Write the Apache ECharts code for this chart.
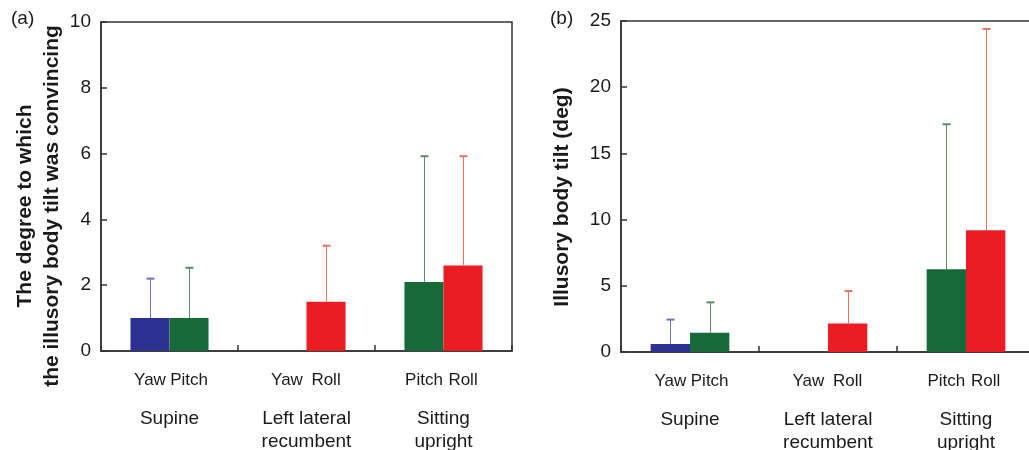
<!DOCTYPE html>
<html>
<head>
<meta charset="utf-8">
<script src="https://cdn.jsdelivr.net/npm/echarts@6/dist/echarts.min.js"></script>
<style>
  html, body { margin: 0; padding: 0; background: #fff; }
  #main { width: 1029px; height: 450px; }
</style>
</head>
<body>
<div id="main"></div>
<script>
// categories and the direction shown on each bar slot
var categories = ['Supine', 'Left lateral\nrecumbent', 'Sitting\nupright'];
var leftDirs = ['Yaw', 'Yaw', 'Pitch'];
var rightDirs = ['Pitch', 'Roll', 'Roll'];

// (a) degree to which the tilt was convincing: mean and mean+SD
var aLeftMean = [1.0, 0, 2.1];
var aLeftUpper = [2.2, null, 5.92];
var aRightMean = [1.0, 1.5, 2.6];
var aRightUpper = [2.53, 3.2, 5.92];

// (b) illusory body tilt (deg): mean and mean+SD
var bLeftMean = [0.6, 0, 6.25];
var bLeftUpper = [2.45, null, 17.2];
var bRightMean = [1.45, 2.15, 9.2];
var bRightUpper = [3.75, 4.6, 24.4];

var FONT = '"Liberation Sans", Arial, sans-serif';
var dirColors = { Yaw: '#2E3192', Pitch: '#17693A', Roll: '#EC1C24' };
var errColors = { Yaw: '#6E72B8', Pitch: '#5A8C66', Roll: '#F07060' };
var CAT_GAP = 0.43;

function barSeries(idx, means, dirs) {
    return {
        type: 'bar',
        xAxisIndex: idx,
        yAxisIndex: idx,
        barGap: '0%',
        barCategoryGap: (CAT_GAP * 100) + '%',
        data: means.map(function (v, i) {
            return { value: v, itemStyle: { color: dirColors[dirs[i]] } };
        }),
        label: {
            show: true,
            position: 'bottom',
            distance: 21,
            formatter: function (p) { return dirs[p.dataIndex]; },
            fontSize: 17,
            color: '#1a1a1a',
            fontFamily: FONT
        }
    };
}

// error bars: line from bar top up to mean+SD with a small cap
function errSeries(idx, side, means, uppers, dirs) {
    var data = [];
    for (var i = 0; i < means.length; i++) {
        if (uppers[i] != null) data.push([i, means[i], uppers[i]]);
    }
    return {
        type: 'custom',
        xAxisIndex: idx,
        yAxisIndex: idx,
        data: data,
        z: 3,
        renderItem: function (params, api) {
            var band = api.size([1, 0])[0];
            var barW = band * (1 - CAT_GAP) / 2;
            var base = api.coord([api.value(0), api.value(1)]);
            var top = api.coord([api.value(0), api.value(2)]);
            var x = Math.round(base[0] + side * barW / 2) + 0.5;
            var color = errColors[dirs[api.value(0)]];
            return {
                type: 'group',
                children: [{
                    type: 'line',
                    shape: { x1: x, y1: base[1], x2: x, y2: top[1] },
                    style: { stroke: color, lineWidth: 1 }
                }, {
                    type: 'line',
                    shape: { x1: x - 4, y1: top[1], x2: x + 4, y2: top[1] },
                    style: { stroke: color, lineWidth: 2 }
                }]
            };
        }
    };
}

function xAxisOf(idx) {
    return {
        type: 'category',
        gridIndex: idx,
        data: categories,
        axisLine: { lineStyle: { color: '#333', width: 1.5 } },
        axisTick: { show: true, inside: true, length: 6, lineStyle: { color: '#333', width: 1.5 } },
        axisLabel: {
            interval: 0,
            margin: 56,
            fontSize: 19,
            lineHeight: 23,
            color: '#1a1a1a',
            fontFamily: FONT
        },
        splitLine: { show: false }
    };
}

function yAxisOf(idx, max, interval) {
    return {
        type: 'value',
        gridIndex: idx,
        min: 0,
        max: max,
        interval: interval,
        axisLine: { show: true, lineStyle: { color: '#333', width: 1.5 } },
        axisTick: { show: true, inside: true, length: 6, lineStyle: { color: '#333', width: 1.5 } },
        axisLabel: { fontSize: 19, margin: 10, color: '#1a1a1a', fontFamily: FONT },
        splitLine: { show: false }
    };
}

var myChart = echarts.init(document.getElementById('main'));
var option = {
    backgroundColor: '#fff',
    animation: false,
    grid: [
        { left: 101, top: 22, width: 411, height: 329, outerBoundsMode: 'none', containLabel: false,
          show: true, borderColor: '#333', borderWidth: 1.5 },
        { left: 621, top: 21, width: 414, height: 331, outerBoundsMode: 'none', containLabel: false,
          show: true, borderColor: '#333', borderWidth: 1.5 }
    ],
    xAxis: [xAxisOf(0), xAxisOf(1)],
    yAxis: [yAxisOf(0, 10, 2), yAxisOf(1, 25, 5)],
    graphic: [
        { type: 'text', left: 11, top: 9, style: { text: '(a)', fontSize: 19, fill: '#1a1a1a', fontFamily: FONT } },
        { type: 'text', left: 550, top: 9, style: { text: '(b)', fontSize: 19, fill: '#1a1a1a', fontFamily: FONT } },
        {
            type: 'text', x: 39, y: 206, rotation: Math.PI / 2,
            style: {
                text: 'The degree to which\nthe illusory body tilt was convincing',
                fontSize: 21, fontWeight: 'bold', lineHeight: 27,
                align: 'center', verticalAlign: 'middle', fill: '#1a1a1a', fontFamily: FONT
            }
        },
        {
            type: 'text', x: 562, y: 197, rotation: Math.PI / 2,
            style: {
                text: 'Illusory body tilt (deg)',
                fontSize: 21, fontWeight: 'bold',
                align: 'center', verticalAlign: 'middle', fill: '#1a1a1a', fontFamily: FONT
            }
        }
    ],
    series: [
        barSeries(0, aLeftMean, leftDirs),
        barSeries(0, aRightMean, rightDirs),
        errSeries(0, -1, aLeftMean, aLeftUpper, leftDirs),
        errSeries(0, 1, aRightMean, aRightUpper, rightDirs),
        barSeries(1, bLeftMean, leftDirs),
        barSeries(1, bRightMean, rightDirs),
        errSeries(1, -1, bLeftMean, bLeftUpper, leftDirs),
        errSeries(1, 1, bRightMean, bRightUpper, rightDirs)
    ]
};
myChart.setOption(option);
</script>
</body>
</html>
